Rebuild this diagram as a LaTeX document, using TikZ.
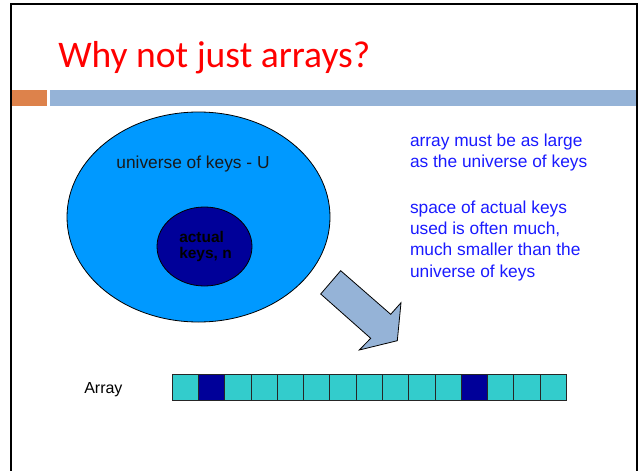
\documentclass[tikz,border=0pt]{standalone}
\usepackage{fontspec}
\setmainfont{Liberation Sans}
\newfontfamily\titlefont{Carlito}
\usetikzlibrary{shapes.geometric}
\definecolor{titlered}{RGB}{255,0,0}
\definecolor{barblue}{RGB}{149,179,215}
\definecolor{barorange}{RGB}{221,130,75}
\definecolor{univblue}{RGB}{0,153,255}
\definecolor{keynavy}{RGB}{0,0,153}
\definecolor{celltealc}{RGB}{51,204,204}
\definecolor{txtblue}{RGB}{26,26,255}
\tikzset{
  txt/.style={inner sep=0pt, outer sep=0pt, font=\fontsize{13pt}{16pt}\selectfont, align=left},
  cellbase/.style={draw=black!85, line width=0.75pt, minimum width=19.7pt, minimum height=19.8pt, inner sep=0pt},
  cellc/.style={cellbase, fill=celltealc},
  celld/.style={cellbase, fill=keynavy},
  bigarrow/.style={draw=black, line width=0.6pt, fill=barblue, line join=miter},
}
\begin{document}
\begin{tikzpicture}[x=0.75pt,y=-0.75pt]
\useasboundingbox (0,0) rectangle (639,471);
% frame
\draw[line width=1.5pt] (11.3,471) -- (11.3,3.6) -- (636.8,3.6) -- (636.8,471);
% bars
\fill[barorange] (12.3,90) rectangle (47,106);
\fill[barblue] (50,90) rectangle (636,106);
% title
\node[inner sep=0pt, anchor=base west, text=titlered] (title) at (58,67)
  {\resizebox{234pt}{!}{\titlefont\fontsize{28pt}{30pt}\selectfont Why not just arrays?}};
% ellipses
\node[ellipse, draw=black, line width=0.6pt, fill=univblue, minimum width=197.25pt, minimum height=157.5pt, inner sep=0pt] (univ) at (198.5,217) {};
\node[ellipse, draw=black, line width=0.6pt, fill=keynavy, minimum width=71.25pt, minimum height=59.25pt, inner sep=0pt] (keys) at (204.5,246.5) {};
\node[txt, anchor=base, text=black!90] (univlabel) at (193,168) {universe of keys - U};
\node[inner sep=0pt, anchor=base west, align=left, text=black, font=\bfseries\fontsize{11.6pt}{12pt}\selectfont] (keyslabel) at (179,258) {actual\\keys, n};
% arrow
\draw[bigarrow] (340.7,270.7) -- (320.7,294) -- (370.7,338.3) -- (359.3,350) -- (397.3,340.7) -- (401,302.7) -- (390.7,314.3) -- cycle;
% right texts
\node[txt, anchor=base west, text=txtblue] (p1) at (410,167.5) {array must be as large\\as the universe of keys};
\node[txt, anchor=base west, text=txtblue] (p2) at (410,277) {space of actual keys\\used is often much,\\much smaller than the\\universe of keys};
% array
\node[inner sep=0pt, anchor=base west, font=\fontsize{12pt}{14pt}\selectfont] (arraylabel) at (84,393) {Array};
\foreach \i in {0,...,14}{
  \ifnum\i=1 \def\st{celld}\else\ifnum\i=11 \def\st{celld}\else\def\st{cellc}\fi\fi
  \node[\st] (c\i) at ({172.3+26.27*(\i+0.5)},387.5) {};
}
\end{tikzpicture}
\end{document}
